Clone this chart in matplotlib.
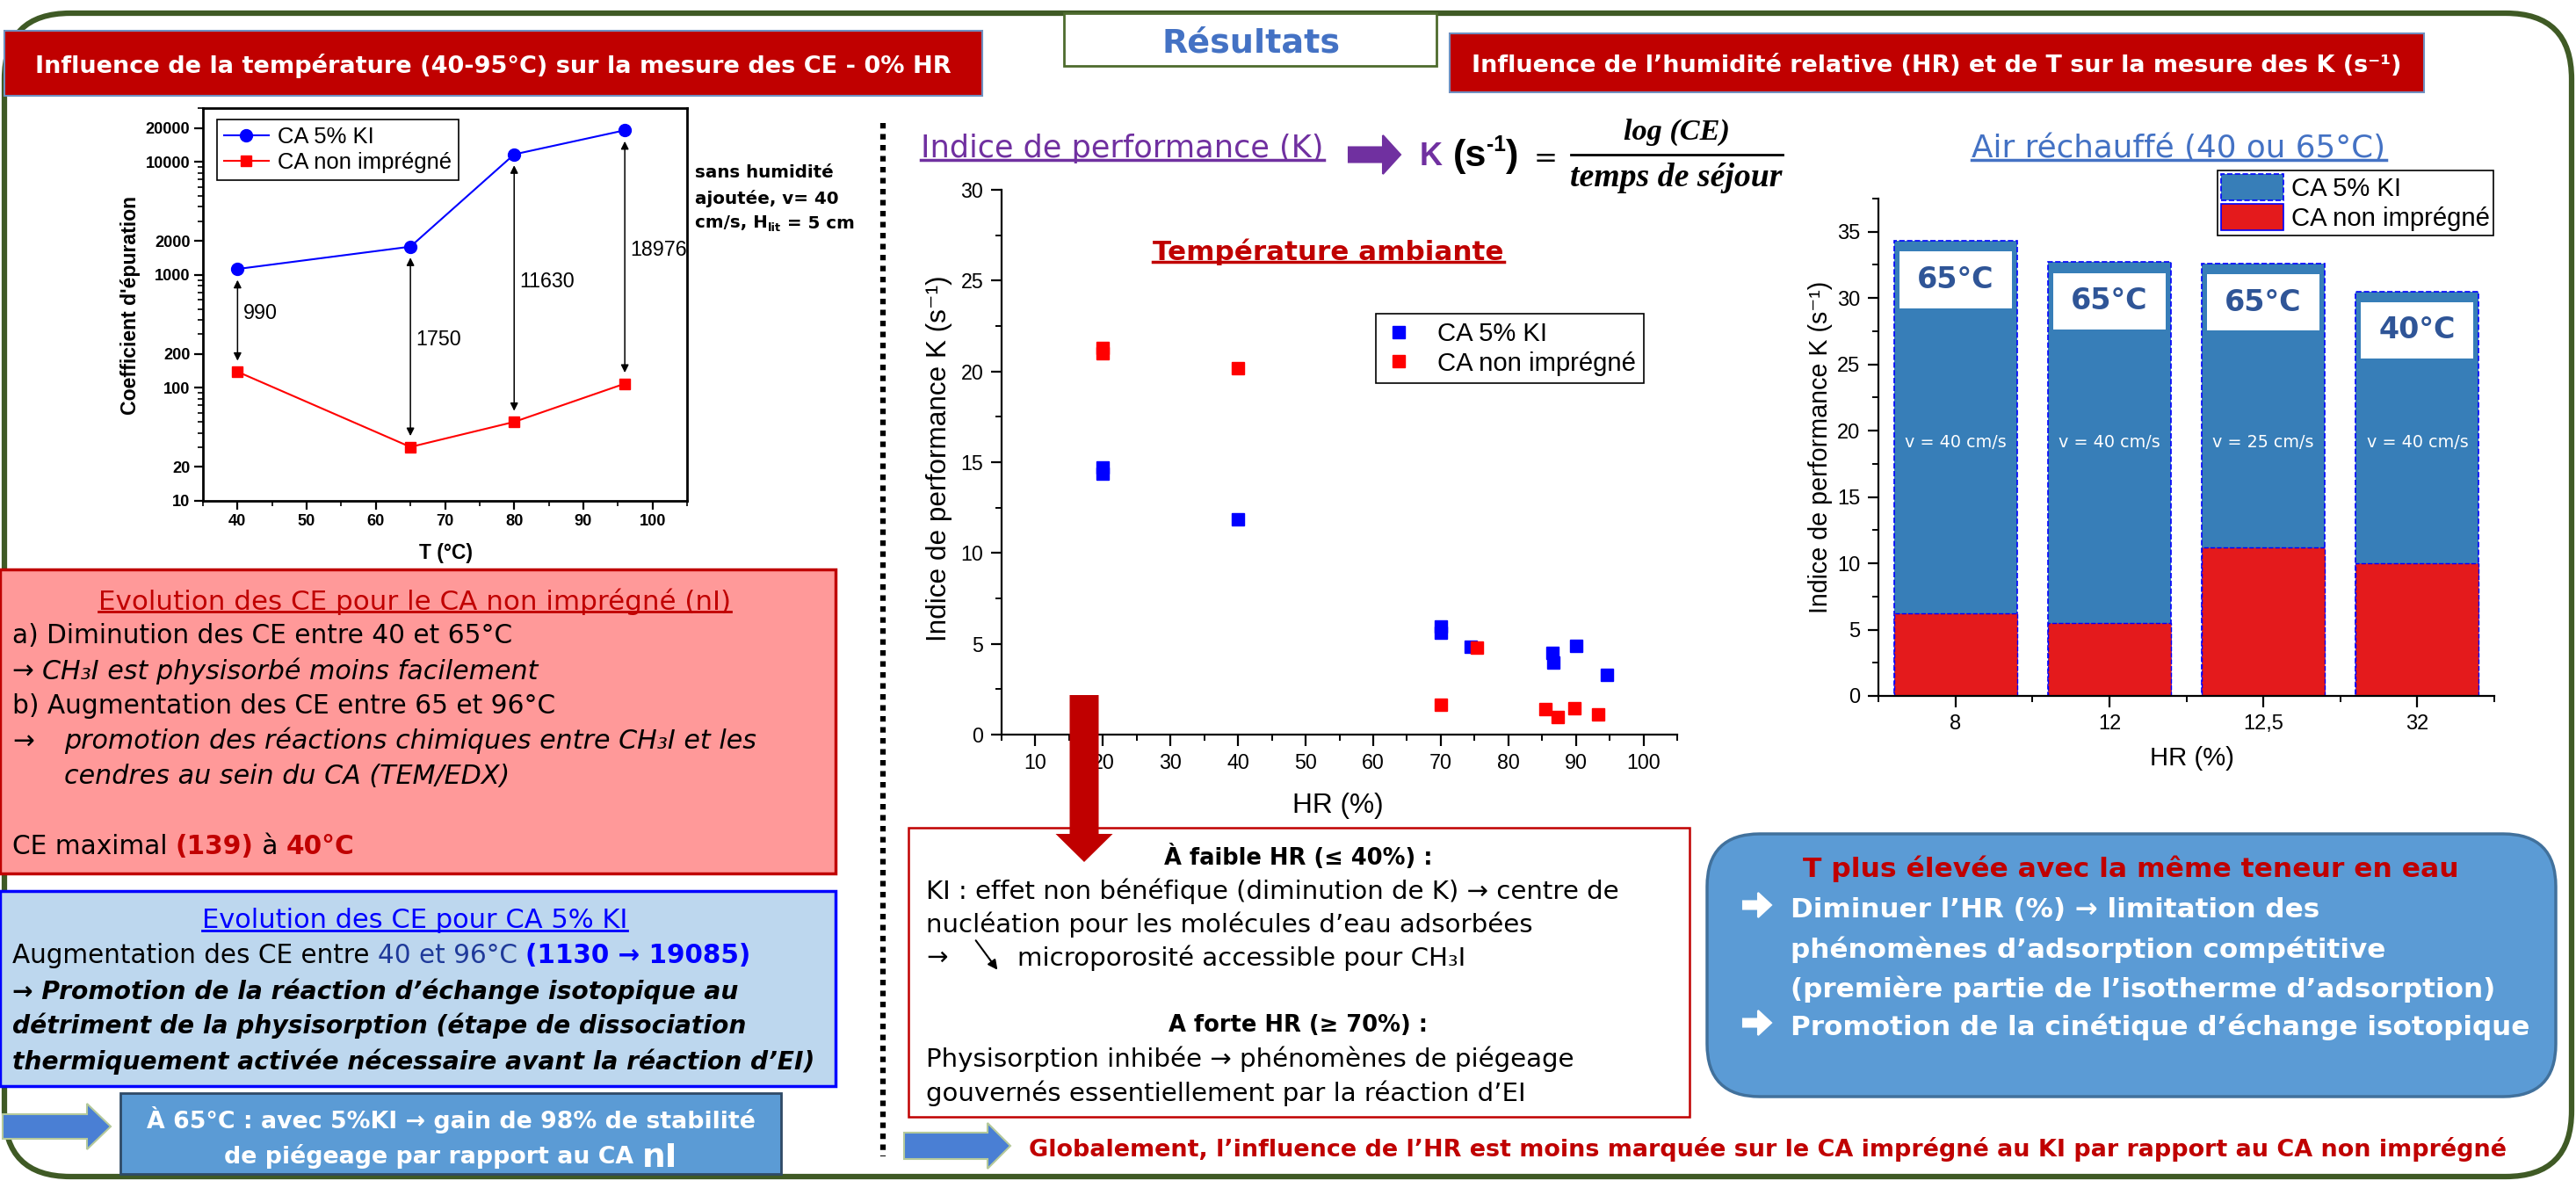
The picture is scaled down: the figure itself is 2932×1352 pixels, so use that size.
import matplotlib
matplotlib.use("Agg")
import numpy as np
import matplotlib.pyplot as plt
from matplotlib import font_manager
from matplotlib.patches import FancyBboxPatch, Polygon, Patch, Rectangle, FancyArrowPatch
from matplotlib.lines import Line2D
from matplotlib.transforms import IdentityTransform
from matplotlib.ticker import FixedLocator, MultipleLocator, LogLocator, NullFormatter

plt.rcParams['font.family'] = ['DejaVu Sans']

installed = {f.name for f in font_manager.fontManager.ttflist}
NARROW = 'Liberation Sans Narrow' if 'Liberation Sans Narrow' in installed else 'Liberation Sans'
ARIAL = ['Liberation Sans', 'DejaVu Sans']
SERIF = ['Liberation Serif', 'DejaVu Serif']

# ---- data read from the poster ----
# CE vs temperature (no added humidity)
temp_c = [40, 65, 80, 96]
ce_ki = [1129, 1780, 11680, 19085]
ce_ni = [139, 30, 50, 109]
ce_yticks = [10, 20, 100, 200, 1000, 2000, 10000, 20000]

# K vs HR at room temperature
hr_ki = [20, 20, 40, 70, 70, 74.5, 86.5, 86.6, 90, 94.6]
k_ki = [14.35, 14.7, 11.85, 5.6, 5.95, 4.85, 4.5, 3.95, 4.9, 3.3]
hr_ni = [20, 20, 40, 70, 75.3, 85.5, 87.3, 89.8, 93.3]
k_ni = [21.0, 21.3, 20.2, 1.65, 4.8, 1.42, 0.97, 1.46, 1.11]

# K with heated air
hr_cats = ['8', '12', '12,5', '32']
k_ki_hot = [34.3, 32.7, 32.6, 30.5]
k_ni_hot = [6.2, 5.5, 11.2, 10.0]
air_temp = ['65°C', '65°C', '65°C', '40°C']
air_speed = ['v = 40 cm/s', 'v = 40 cm/s', 'v = 25 cm/s', 'v = 40 cm/s']

DARKRED = '#c00000'
PURPLE = '#7030a0'
TITLEBLUE = '#4472c4'

W, H = 2932, 1352
fig = plt.figure(figsize=(W / 100, H / 100), dpi=100)
R = fig.canvas.get_renderer()
PIX = IdentityTransform()


def fx(x):
    return x / W


def fy(y):
    return 1 - y / H


def rect(x0, y0, x1, y1, fc, ec, lw=2.0, rad=0, z=2, **kw):
    style = 'round,pad=0,rounding_size=%d' % rad if rad else 'square,pad=0'
    p = FancyBboxPatch((x0, H - y1), x1 - x0, y1 - y0, boxstyle=style,
                       transform=PIX, fc=fc, ec=ec, lw=lw, zorder=z, **kw)
    fig.add_artist(p)
    return p


def right_arrow(x0, x1, yc, shaft, head, head_len, fc, ec, z=4):
    pts = [(x0, yc - shaft / 2), (x1 - head_len, yc - shaft / 2),
           (x1 - head_len, yc - head / 2), (x1, yc), (x1 - head_len, yc + head / 2),
           (x1 - head_len, yc + shaft / 2), (x0, yc + shaft / 2)]
    fig.add_artist(Polygon([(x, H - y) for x, y in pts], closed=True, transform=PIX,
                           fc=fc, ec=ec, lw=1.5, zorder=z))


def down_arrow(xc, y0, y1, shaft, head, head_len, fc):
    pts = [(xc - shaft / 2, y0), (xc + shaft / 2, y0), (xc + shaft / 2, y1 - head_len),
           (xc + head / 2, y1 - head_len), (xc, y1), (xc - head / 2, y1 - head_len),
           (xc - shaft / 2, y1 - head_len)]
    fig.add_artist(Polygon([(x, H - y) for x, y in pts], closed=True, transform=PIX,
                           fc=fc, ec='none', zorder=6))


def adv(s, **kw):
    a = fig.text(0, 0, '|' + s + '|', **kw)
    b = fig.text(0, 0, '||', **kw)
    w = a.get_window_extent(R).width - b.get_window_extent(R).width
    a.remove()
    b.remove()
    return w


def fit_size(s, target, **kw):
    # font size that gives text s the width measured on the reference
    return 20 * target / adv(s, fontsize=20, **kw)


def line(x, y, parts, ha='left', width=None, **common):
    if isinstance(parts, str):
        parts = [(parts, {})]

    def measure(k):
        ws = []
        for s, st in parts:
            kw = {**common, **st}
            kw.pop('dy', None)
            kw['fontsize'] = kw.get('fontsize', 12) * k
            ws.append(adv(s, **kw))
        return ws

    k = 1.0
    widths = measure(k)
    if width:
        k = width / sum(widths)
        widths = measure(k)
    if ha == 'center':
        x -= sum(widths) / 2
    out = []
    for (s, st), w in zip(parts, widths):
        kw = {**common, **st}
        dy = kw.pop('dy', 0) * k
        kw['fontsize'] = kw.get('fontsize', 12) * k
        out.append(fig.text(fx(x), fy(y + dy), s, ha='left', va='center_baseline',
                            zorder=7, **kw))
        x += w
    return out


def underline(texts, color, lw=2.0, gap=4):
    bbs = [t.get_window_extent(R) for t in texts]
    x0 = min(b.x0 for b in bbs)
    x1 = max(b.x1 for b in bbs)
    y = min(b.y0 for b in bbs) + gap
    fig.add_artist(Line2D([x0, x1], [y, y], transform=PIX, color=color, lw=lw, zorder=7))


def style_ticks(ax, size, bold=False):
    for lbl in ax.get_xticklabels() + ax.get_yticklabels():
        lbl.set_family(NARROW)
        lbl.set_fontsize(size)
        if bold:
            lbl.set_fontweight('bold')


# ---------- frame and headers ----------
rect(5, 15, 2927, 1339, 'none', '#3f5a25', lw=4.5, rad=75, z=1)
rect(5, 35, 1118, 109, DARKRED, '#6f8fc0', lw=1.5)
line(561, 72, 'Influence de la température (40-95°C) sur la mesure des CE - 0% HR',
     ha='center', width=1039, color='white', fontweight='bold')
rect(1211, 15, 1635, 75, 'white', '#4e6b2e', lw=2)
line(1424, 45, 'Résultats', ha='center', width=202, color=TITLEBLUE, fontweight='bold')
rect(1650, 38, 2759, 105, DARKRED, '#6f8fc0', lw=1.5)
line(2204, 72, 'Influence de l’humidité relative (HR) et de T sur la mesure des K (s⁻¹)',
     ha='center', width=1056, color='white', fontweight='bold')

fig.add_artist(Line2D([1005, 1005], [H - 140, H - 1316], transform=PIX, color='black',
                      lw=4.5, ls=(0, (1, 1)), zorder=3))

# ---------- left chart: CE vs T ----------
ax1 = fig.add_axes([fx(231), fy(570), (782 - 231) / W, (570 - 123) / H])
ax1.set_facecolor('none')
ax1.set_yscale('log')
ax1.plot(temp_c, ce_ki, '-o', color='#0000ff', lw=1.5, ms=10, label='CA 5% KI', zorder=3)
ax1.plot(temp_c, ce_ni, '-s', color='#ff0000', lw=1.5, ms=9, label='CA non imprégné', zorder=3)
ann_size = fit_size('11630', 63, family=NARROW)
for t, hi, lo in zip(temp_c, ce_ki, ce_ni):
    ax1.annotate('', xy=(t, lo), xytext=(t, hi),
                 arrowprops=dict(arrowstyle='<|-|>', color='black', lw=1.1,
                                 mutation_scale=13, shrinkA=9, shrinkB=9))
    ax1.text(t + 0.8, np.sqrt(hi * lo) * 1.15, str(hi - lo), family=NARROW,
             fontsize=ann_size, va='center')
ax1.set_xlim(35, 105)
ax1.set_ylim(10, 30000)
ax1.yaxis.set_major_locator(FixedLocator(ce_yticks))
ax1.set_yticklabels([str(v) for v in ce_yticks])
ax1.yaxis.set_minor_locator(LogLocator(base=10, subs=np.arange(2, 10), numticks=20))
ax1.yaxis.set_minor_formatter(NullFormatter())
ax1.xaxis.set_major_locator(MultipleLocator(10))
ax1.xaxis.set_minor_locator(MultipleLocator(5))
ax1.tick_params(which='major', length=7, width=1.6)
ax1.tick_params(which='minor', length=4, width=1.2)
for sp in ax1.spines.values():
    sp.set_linewidth(2)
style_ticks(ax1, fit_size('20000', 51, family=NARROW, fontweight='bold'), bold=True)
leg = ax1.legend(loc='upper left', bbox_to_anchor=(fx(247), fy(136)),
                 bbox_transform=fig.transFigure, borderaxespad=0, fancybox=False,
                 edgecolor='black', framealpha=1,
                 prop={'family': NARROW, 'size': fit_size('CA non imprégné', 198, family=NARROW)},
                 handlelength=2.0, handletextpad=0.4, borderpad=0.3, labelspacing=0.2)
leg.get_frame().set_linewidth(1.2)
fig.text(fx(148), fy(347), "Coefficient d'épuration", rotation=90, ha='center', va='center',
         family=ARIAL, fontweight='bold',
         fontsize=fit_size("Coefficient d'épuration", 249, family=ARIAL, fontweight='bold'))
fig.text(fx(507), fy(629), 'T (°C)', ha='center', va='center', family=ARIAL, fontweight='bold',
         fontsize=fit_size('T (°C)', 61, family=ARIAL, fontweight='bold'))
side = fit_size('sans humidité', 158, fontweight='bold')
line(791, 195, 'sans humidité', fontsize=side, fontweight='bold')
line(791, 224, 'ajoutée, v= 40', fontsize=side, fontweight='bold')
line(791, 252, [('cm/s, H', {}), ('lit', {'fontsize': side * 0.65, 'dy': 6}), (' = 5 cm', {})],
     fontsize=side, fontweight='bold')

# ---------- left text boxes ----------
rect(0, 648, 951, 994, '#ff9999', DARKRED, lw=2.5)
t = line(472, 682, 'Evolution des CE pour le CA non imprégné (nI)', ha='center', width=717,
         color=DARKRED)
underline(t, DARKRED, lw=2)
reg = fit_size('a) Diminution des CE entre 40 et 65°C', 570)
ita = fit_size('promotion des réactions chimiques entre CH₃I et les', 787, style='italic')
line(14, 720, 'a) Diminution des CE entre 40 et 65°C', fontsize=reg)
line(14, 761, [('→ ', {}), ('CH₃I est physisorbé moins facilement', {'style': 'italic', 'fontsize': ita})],
     fontsize=reg)
line(14, 801, 'b) Augmentation des CE entre 65 et 96°C', fontsize=reg)
line(14, 840, '→', fontsize=reg)
line(73, 840, 'promotion des réactions chimiques entre CH₃I et les', fontsize=ita, style='italic')
line(73, 881, 'cendres au sein du CA (TEM/EDX)', fontsize=ita, style='italic')
line(14, 960, [('CE maximal ', {}), ('(%d)' % ce_ni[0], {'color': DARKRED, 'fontweight': 'bold'}),
               (' à ', {}), ('40°C', {'color': DARKRED, 'fontweight': 'bold'})], fontsize=reg)

rect(0, 1014, 951, 1236, '#bdd7ee', '#0000ff', lw=2.5)
t = line(472, 1045, 'Evolution des CE pour CA 5% KI', ha='center', width=482, color='#0000ff')
underline(t, '#0000ff', lw=2)
line(14, 1085, [('Augmentation des CE entre ', {}), ('40 et 96°C ', {'color': '#1f3a9a'}),
                ('(1130 → 19085)', {'color': '#0000ff', 'fontweight': 'bold'})], width=838)
bi = fit_size('thermiquement activée nécessaire avant la réaction d’EI)', 911,
              fontweight='bold', style='italic')
for yy, s in [(1125, '→ Promotion de la réaction d’échange isotopique au'),
              (1164, 'détriment de la physisorption (étape de dissociation'),
              (1205, 'thermiquement activée nécessaire avant la réaction d’EI)')]:
    line(14, yy, s, fontsize=bi, fontweight='bold', style='italic')

right_arrow(3, 126, 1282, 28, 52, 27, '#4a7fd4', '#b5c99a')
rect(137, 1244, 889, 1336, '#5b9bd5', '#2f4a66', lw=2)
bl = fit_size('À 65°C : avec 5%KI → gain de 98% de stabilité', 690, fontweight='bold')
line(513, 1271, 'À 65°C : avec 5%KI → gain de 98% de stabilité', ha='center',
     color='white', fontsize=bl, fontweight='bold')
line(513, 1313, [('de piégeage par rapport au CA ', {}), ('nI', {'fontsize': bl * 1.4})],
     ha='center', color='white', fontsize=bl, fontweight='bold')

# ---------- middle: K vs HR at room temperature ----------
t = line(1048, 165, 'Indice de performance (K)', width=457, color=PURPLE)
underline(t, PURPLE, lw=2.5)
right_arrow(1535, 1594, 176, 17, 44, 20, PURPLE, PURPLE)
line(1616, 174, 'K', width=26, color=PURPLE, fontweight='bold', family=NARROW)
line(1654, 174, [('(s', {}), ('-1', {'fontsize': 17, 'dy': -11}), (')', {})], width=75,
     fontsize=30, fontweight='bold', family=NARROW)
line(1746, 178, '=', width=27)
fig.add_artist(Line2D([1788, 2029], [H - 176, H - 176], transform=PIX, color='black', lw=2))
fig.text(fx(1908), fy(150), 'log (CE)', ha='center', va='center', family=SERIF,
         style='italic', fontweight='bold',
         fontsize=fit_size('log (CE)', 121, family=SERIF, style='italic', fontweight='bold'))
fig.text(fx(1908), fy(203), 'temps de séjour', ha='center', va='center', family=SERIF,
         style='italic', fontweight='bold',
         fontsize=fit_size('temps de séjour', 241, family=SERIF, style='italic', fontweight='bold'))

ax2 = fig.add_axes([fx(1140), fy(836), (1909 - 1140) / W, (836 - 216) / H])
ax2.set_facecolor('none')
ax2.plot(hr_ki, k_ki, 's', color='#0000ff', ms=9.5, label='CA 5% KI', zorder=3)
ax2.plot(hr_ni, k_ni, 's', color='#ff0000', ms=9.5, label='CA non imprégné', zorder=3)
ax2.set_xlim(5, 105)
ax2.set_ylim(0, 30)
ax2.spines['top'].set_visible(False)
ax2.spines['right'].set_visible(False)
for sp in ('left', 'bottom'):
    ax2.spines[sp].set_linewidth(1.6)
ax2.xaxis.set_major_locator(FixedLocator(np.arange(10, 101, 10)))
ax2.xaxis.set_minor_locator(FixedLocator(np.arange(5, 106, 5)))
ax2.yaxis.set_major_locator(MultipleLocator(5))
ax2.yaxis.set_minor_locator(MultipleLocator(2.5))
ax2.tick_params(which='major', length=9, width=1.6, pad=6)
ax2.tick_params(which='minor', length=5, width=1.4)
style_ticks(ax2, fit_size('100', 39, family=NARROW))
leg2 = ax2.legend(loc='upper left', bbox_to_anchor=(fx(1566), fy(357)),
                  bbox_transform=fig.transFigure, borderaxespad=0, fancybox=False,
                  edgecolor='black', framealpha=1,
                  prop={'family': NARROW, 'size': fit_size('CA non imprégné', 225, family=NARROW)},
                  handlelength=1.2, handletextpad=0.9, borderpad=0.3, labelspacing=0.2,
                  numpoints=1)
leg2.get_frame().set_linewidth(1.2)
ylab = 'Indice de performance K (s⁻¹)'
fig.text(fx(1069), fy(522), ylab, rotation=90, ha='center', va='center', family=ARIAL,
         fontsize=fit_size(ylab, 416, family=ARIAL))
fig.text(fx(1523), fy(917), 'HR (%)', ha='center', va='center', family=NARROW,
         fontsize=fit_size('HR (%)', 104, family=NARROW))
t = line(1512, 284, 'Température ambiante', ha='center', width=398, color=DARKRED,
         fontweight='bold')
underline(t, DARKRED, lw=2.5)

down_arrow(1234, 791, 981, 33, 65, 32, DARKRED)

rect(1034, 942, 1923, 1271, 'white', DARKRED, lw=1.8)
mid = fit_size('KI : effet non bénéfique (diminution de K) → centre de', 789)
midb = fit_size('À faible HR (≤ 40%) :', 306, fontweight='bold')
line(1478, 972, 'À faible HR (≤ 40%) :', ha='center', fontsize=midb, fontweight='bold')
line(1054, 1011, 'KI : effet non bénéfique (diminution de K) → centre de', fontsize=mid)
line(1054, 1049, 'nucléation pour les molécules d’eau adsorbées', fontsize=mid)
line(1054, 1087, '→', fontsize=mid)
fig.add_artist(FancyArrowPatch((1109, H - 1068), (1137, H - 1106), transform=PIX,
                               arrowstyle='-|>', mutation_scale=16, lw=1.5, color='black',
                               zorder=7))
line(1158, 1087, 'microporosité accessible pour CH₃I', fontsize=mid)
line(1478, 1164, 'A forte HR (≥ 70%) :', ha='center', fontsize=midb, fontweight='bold')
line(1054, 1202, 'Physisorption inhibée → phénomènes de piégeage', fontsize=mid)
line(1054, 1241, 'gouvernés essentiellement par la réaction d’EI', fontsize=mid)

right_arrow(1029, 1150, 1304, 30, 52, 26, '#4a7fd4', '#b5c99a')
line(1171, 1305, 'Globalement, l’influence de l’HR est moins marquée sur le CA imprégné au KI '
     'par rapport au CA non imprégné', width=1679, color=DARKRED, fontweight='bold')

# ---------- right: K with heated air ----------
t = line(2480, 165, 'Air réchauffé (40 ou 65°C)', ha='center', width=469, color=TITLEBLUE)
underline(t, TITLEBLUE, lw=2.5)

ax3 = fig.add_axes([fx(2138), fy(792), (2839 - 2138) / W, (792 - 226) / H])
ax3.set_facecolor('none')
pos = np.arange(len(hr_cats))
ax3.bar(pos, k_ki_hot, 0.8, color='#377eb8', ec='#0000ff', ls='--', lw=1.2, zorder=2)
ax3.bar(pos, k_ni_hot, 0.8, color='#e41a1c', ec='#0000ff', ls='--', lw=1.0, zorder=2)
box_h = 4.25
temp_size = fit_size('65°C', 88, fontweight='bold')
speed_size = fit_size('v = 40 cm/s', 116)
for i, (top, tlab, vlab) in enumerate(zip(k_ki_hot, air_temp, air_speed)):
    ax3.add_patch(Rectangle((i - 0.365, top - 0.8 - box_h), 0.73, box_h, fc='white',
                            ec='none', zorder=3))
    ax3.text(i, top - 0.8 - box_h / 2, tlab, ha='center', va='center', color='#2f5597',
             fontsize=temp_size, fontweight='bold', zorder=4)
    ax3.text(i, 19.1, vlab, ha='center', va='center', color='white', fontsize=speed_size,
             zorder=4)
ax3.set_xlim(-0.5, 3.5)
ax3.set_ylim(0, 37.5)
ax3.spines['top'].set_visible(False)
ax3.spines['right'].set_visible(False)
for sp in ('left', 'bottom'):
    ax3.spines[sp].set_linewidth(1.6)
ax3.set_xticks(pos)
ax3.set_xticklabels(hr_cats)
ax3.xaxis.set_minor_locator(FixedLocator(np.arange(-0.5, 3.6, 1)))
ax3.yaxis.set_major_locator(MultipleLocator(5))
ax3.yaxis.set_minor_locator(MultipleLocator(2.5))
ax3.tick_params(which='major', length=9, width=1.6, pad=6)
ax3.tick_params(which='minor', length=5, width=1.4)
style_ticks(ax3, fit_size('12,5', 46, family=NARROW))
handles = [Patch(fc='#377eb8', ec='#0000ff', ls='--', lw=1.2),
           Patch(fc='#e41a1c', ec='#0000ff', lw=1.2)]
leg3 = ax3.legend(handles, ['CA 5% KI', 'CA non imprégné'], loc='upper left',
                  bbox_to_anchor=(fx(2524), fy(194)), bbox_transform=fig.transFigure,
                  borderaxespad=0, fancybox=False, edgecolor='black', framealpha=1,
                  prop={'family': NARROW, 'size': fit_size('CA non imprégné', 226, family=NARROW)},
                  handlelength=2.4, handleheight=1.2, handletextpad=0.3, borderpad=0.15,
                  labelspacing=0.1)
leg3.get_frame().set_linewidth(1.2)
fig.text(fx(2072), fy(509), ylab, rotation=90, ha='center', va='center', family=ARIAL,
         fontsize=fit_size(ylab, 378, family=ARIAL))
fig.text(fx(2495), fy(863), 'HR (%)', ha='center', va='center', family=NARROW,
         fontsize=fit_size('HR (%)', 96, family=NARROW))

rect(1943, 949, 2909, 1248, '#5b9bd5', '#41719c', lw=2.5, rad=60)
line(2425, 986, 'T plus élevée avec la même teneur en eau', ha='center', width=744,
     color=DARKRED, fontweight='bold')
rb = fit_size('(première partie de l’isotherme d’adsorption)', 801, fontweight='bold')
for yy, s, bullet in [(1032, 'Diminuer l’HR (%) → limitation des', True),
                      (1078, 'phénomènes d’adsorption compétitive', False),
                      (1123, '(première partie de l’isotherme d’adsorption)', False),
                      (1166, 'Promotion de la cinétique d’échange isotopique', True)]:
    if bullet:
        right_arrow(1984, 2016, yy - 2, 9, 28, 15, 'white', 'white', z=7)
    line(2038, yy, s, color='white', fontsize=rb, fontweight='bold')

fig.savefig('out.png', dpi=100, facecolor='white')
